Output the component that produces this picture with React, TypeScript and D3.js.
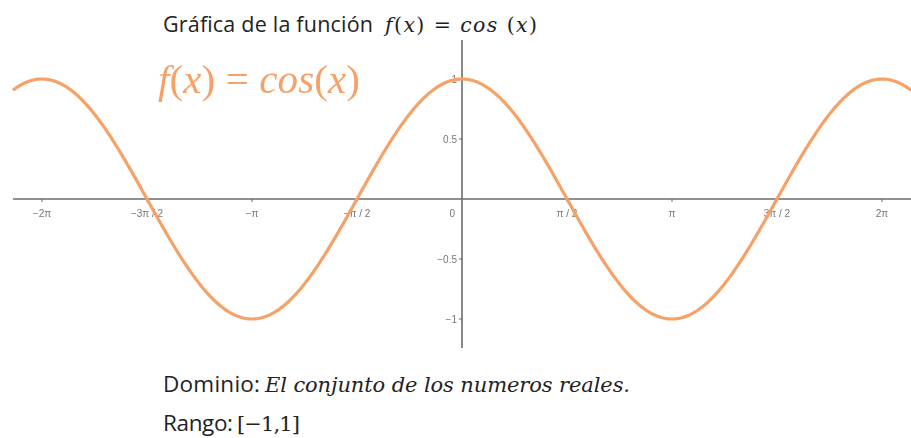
import React from "react";
import * as d3 from "d3";

const W = 911;
const H = 438;

// Tick values along each axis (multiples of π on x)
const xTickMultiples = [-2, -1.5, -1, -0.5, 0.5, 1, 1.5, 2];
const xTickLabels = ["\u22122\u03c0", "\u22123\u03c0 / 2", "\u2212\u03c0", "\u2212\u03c0 / 2", "\u03c0 / 2", "\u03c0", "3\u03c0 / 2", "2\u03c0"];
const yTicks = [-1, -0.5, 0.5, 1];
const yTickLabels = ["\u22121", "\u22120.5", "0.5", "1"];

// Sampled points of the plotted function
const sampleCount = 600;
const xDomain: [number, number] = [-2.133 * Math.PI, 2.143 * Math.PI];

const mathFont = "'DejaVu Serif', serif";
const textFont = "'Open Sans', 'Noto Sans', sans-serif";
const tickFont = "'Liberation Sans', Arial, sans-serif";

export default function App() {
  const x = d3.scaleLinear().domain([-Math.PI, Math.PI]).range([252, 672]);
  const y = d3.scaleLinear().domain([-1, 1]).range([319, 79]);
  const x0 = x(0);
  const y0 = y(0);

  const xs = d3.range(sampleCount + 1).map(
    (i) => xDomain[0] + ((xDomain[1] - xDomain[0]) * i) / sampleCount
  );
  const pts = xs.map((v) => [v, Math.cos(v)] as [number, number]);
  const line = d3
    .line<[number, number]>()
    .x((d) => x(d[0]))
    .y((d) => y(d[1]))
    .curve(d3.curveLinear);

  const axisColor = "#6b6b6b";
  const tickColor = "#777";
  const orange = "#f5a167";

  return (
    <svg width={W} height={H} style={{ position: "absolute", left: 0, top: 0, background: "#fff" }}>
      <defs>
        <filter id="soft" x="-5%" y="-5%" width="110%" height="110%">
          <feGaussianBlur stdDeviation="0.4" />
        </filter>
      </defs>

      {/* Title */}
      <text x={163} y={32} fontFamily={textFont} fontSize={21.5} fill="#222" textLength={210} lengthAdjust="spacing">
        Gráfica de la función
      </text>
      <text x={385} y={32} fontFamily={mathFont} fontSize={20.5} fill="#222" textLength={152} lengthAdjust="spacing">
        <tspan fontStyle="italic">f</tspan>
        <tspan>(</tspan>
        <tspan fontStyle="italic">x</tspan>
        <tspan>) = </tspan>
        <tspan fontStyle="italic">cos </tspan>
        <tspan>(</tspan>
        <tspan fontStyle="italic">x</tspan>
        <tspan>)</tspan>
      </text>

      {/* Axes */}
      <g filter="url(#soft)">
        <line x1={13} x2={911} y1={y0} y2={y0} stroke={axisColor} strokeWidth={1.6} />
        <line x1={x0} x2={x0} y1={40} y2={348} stroke={axisColor} strokeWidth={1.6} />
        {xTickMultiples.map((m, i) => (
          <g key={"xt" + i}>
            <line x1={x(m * Math.PI)} x2={x(m * Math.PI)} y1={y0} y2={y0 + 3} stroke={axisColor} strokeWidth={1} />
            <text
              x={x(m * Math.PI)}
              y={y0 + 18}
              textAnchor="middle"
              fontFamily={tickFont}
              fontSize={10}
              fill={tickColor}
            >
              {xTickLabels[i]}
            </text>
          </g>
        ))}
        <text x={x0 - 7} y={y0 + 18} textAnchor="end" fontFamily={tickFont} fontSize={10} fill={tickColor}>
          0
        </text>
        {yTicks.map((t, i) => (
          <g key={"yt" + i}>
            <line x1={x0 - 3} x2={x0} y1={y(t)} y2={y(t)} stroke={axisColor} strokeWidth={1} />
            <text
              x={x0 - 5}
              y={y(t) + 3.5}
              textAnchor="end"
              fontFamily={tickFont}
              fontSize={10}
              fill={tickColor}
            >
              {yTickLabels[i]}
            </text>
          </g>
        ))}
      </g>

      {/* Function curve */}
      <path d={line(pts) ?? ""} fill="none" stroke={orange} strokeWidth={3.2} strokeLinecap="round" filter="url(#soft)" />

      {/* Curve label */}
      <text
        x={158}
        y={93}
        fontFamily="'Liberation Serif', 'DejaVu Serif', serif"
        fontSize={41}
        fill={orange}
        filter="url(#soft)"
        textLength={202}
        lengthAdjust="spacing"
      >
        <tspan fontStyle="italic">f</tspan>
        <tspan>(</tspan>
        <tspan fontStyle="italic">x</tspan>
        <tspan>) = </tspan>
        <tspan fontStyle="italic">cos</tspan>
        <tspan>(</tspan>
        <tspan fontStyle="italic">x</tspan>
        <tspan>)</tspan>
      </text>

      {/* Domain and range */}
      <text x={163} y={392} fontFamily={textFont} fontSize={22.5} fill="#222" textLength={97} lengthAdjust="spacing">
        Dominio:
      </text>
      <text
        x={265}
        y={392}
        fontFamily={mathFont}
        fontStyle="italic"
        fontSize={21}
        fill="#222"
        textLength={365}
        lengthAdjust="spacing"
      >
        El conjunto de los numeros reales.
      </text>
      <text x={163} y={431} fontFamily={textFont} fontSize={22.5} fill="#222" textLength={70} lengthAdjust="spacing">
        Rango:
      </text>
      <text x={237} y={431} fontFamily={mathFont} fontSize={21} fill="#222" textLength={63} lengthAdjust="spacing">
        [−1,1]
      </text>
    </svg>
  );
}
